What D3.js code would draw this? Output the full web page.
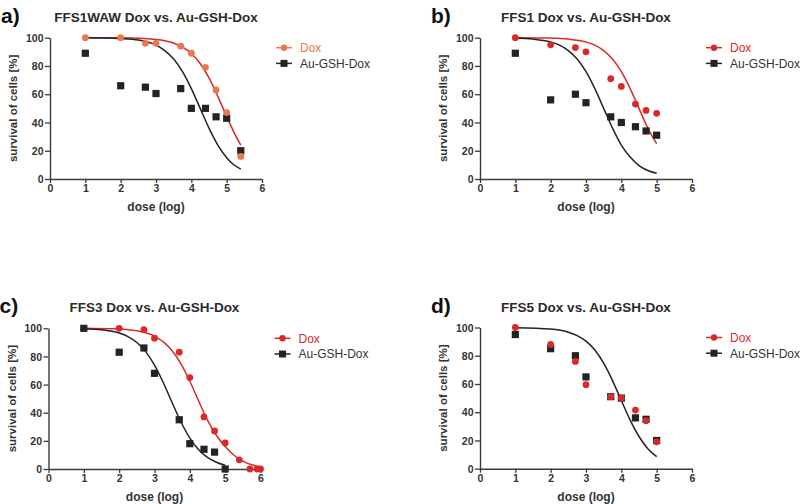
<!DOCTYPE html>
<html><head><meta charset="utf-8">
<script src="https://cdn.jsdelivr.net/npm/d3@7"></script>
<style>
html,body{margin:0;padding:0;background:#fff;}
svg{display:block;font-family:"Liberation Sans",Arial,sans-serif;}
</style></head>
<body>
<svg id="chart" width="800" height="504"></svg>
<script>
// ---------- data ----------
const panelLetters = ["a)", "b)", "c)", "d)"];
const panelTitles = ["FFS1WAW Dox vs. Au-GSH-Dox", "FFS1 Dox vs. Au-GSH-Dox", "FFS3 Dox vs. Au-GSH-Dox", "FFS5 Dox vs. Au-GSH-Dox"];
const seriesNames = ["Dox", "Au-GSH-Dox"];
const xTicks = [0, 1, 2, 3, 4, 5, 6];
const yTicks = [0, 20, 40, 60, 80, 100];

// measured points (dose log, survival %)
const doxA = [[1,100],[2,100],[2.7,96],[3,96],[3.7,94],[4,89],[4.4,79],[4.7,63],[5,47],[5.4,16]];
const auA  = [[1,89],[2,66],[2.7,65],[3,60.5],[3.7,64],[4,50],[4.4,50],[4.7,44],[5,43],[5.4,20]];
const doxB = [[1,100],[2,95],[2.7,93],[3,90],[3.7,71],[4,65.5],[4.4,53],[4.7,48.5],[5,46.5]];
const auB  = [[1,89],[2,56],[2.7,60],[3,54],[3.7,44],[4,40],[4.4,37],[4.7,34],[5,31]];
const doxC = [[1,100],[2,100],[2.7,99],[3,93],[3.7,83],[4,65],[4.4,37],[4.7,27],[5,18.5],[5.4,6.5],[5.7,0],[5.9,0],[6,0]];
const auC  = [[1,100],[2,83],[2.7,86],[3,68],[3.7,35],[4,18],[4.4,14],[4.7,12],[5,0]];
const doxD = [[1,100],[2,88],[2.7,76],[3,59.5],[3.7,51],[4,50],[4.4,41.5],[4.7,34],[5,19]];
const auD  = [[1,95],[2,85],[2.7,80],[3,65],[3.7,51],[4,50],[4.4,36],[4.7,35],[5,20]];

// fitted curves
const doxFitA = [[1,100],[2,99.9],[3,98.8],[3.5,96.2],[4,88.8],[4.25,81.7],[4.5,71.5],[4.75,58.5],[5,44.3],[5.2,33.4],[5.4,24]];
const auFitA  = [[1,99.9],[1.5,99.8],[2,99.4],[2.5,98.3],[3,94.7],[3.25,90.9],[3.5,84.9],[3.75,76],[4,64],[4.25,50],[4.5,36],[4.75,24],[5,15.1],[5.2,10.1],[5.4,7]];
const doxFitB = [[1,100],[2,99.7],[2.5,99],[3,96.9],[3.25,94.7],[3.5,90.9],[3.75,84.9],[4,76],[4.25,64],[4.5,50],[4.75,36],[5,25]];
const auFitB  = [[1,99.7],[1.5,99],[2,96.9],[2.25,94.7],[2.5,90.9],[2.75,84.9],[3,76],[3.25,64],[3.5,50],[3.75,36],[4,24],[4.25,15.5],[4.5,9.5],[4.75,6],[5,4]];
const doxFitC = [[1,100],[2,99.5],[2.5,98.2],[3,94.5],[3.25,90.3],[3.5,84],[3.75,74.7],[4,62.4],[4.25,48.3],[4.5,34.8],[4.75,24],[5,16],[5.25,9.8],[5.5,5.6],[5.75,3],[6,1.6]];
const auFitC  = [[1,99.6],[1.5,98.9],[2,96.6],[2.25,94.1],[2.5,89.9],[2.75,83.4],[3,73.8],[3.25,61.3],[3.5,47.1],[3.75,33.4],[4,22],[4.25,13.7],[4.5,8.2],[4.75,4.8],[5,2.7]];
const auFitD  = [[1,99.9],[2,98.9],[2.5,96.7],[2.75,94.3],[3,90.3],[3.25,84],[3.5,74.7],[3.75,62.4],[4,48.3],[4.25,34.4],[4.5,22.8],[4.75,14.2],[5,8.5]];

// ---------- layout / style ----------
const panels = [
  {x0:50,  y0:37.7, w:212, h:141.3, dox:doxA, au:auA, doxFit:doxFitA, auFit:auFitA, doxCol:"#E9784F", fitCol:"#D7282B"},
  {x0:480, y0:37.7, w:212, h:141.3, dox:doxB, au:auB, doxFit:doxFitB, auFit:auFitB, doxCol:"#D92A2A", fitCol:"#D92A2A"},
  {x0:48.5,y0:328.3,w:212, h:140.7, dox:doxC, au:auC, doxFit:doxFitC, auFit:auFitC, doxCol:"#D92A2A", fitCol:"#D92A2A"},
  {x0:480, y0:327.5,w:212, h:141.2, dox:doxD, au:auD, doxFit:null,    auFit:auFitD, doxCol:"#D92A2A", fitCol:"#D92A2A"}
];
const dark = "#232323";
const axisCol = "#3a3a3a";

const svg = d3.select("#chart");

panels.forEach((p, i) => {
  const x = d3.scaleLinear().domain([0, 6]).range([p.x0, p.x0 + p.w]);
  const y = d3.scaleLinear().domain([0, 100]).range([p.y0 + p.h, p.y0]);
  const g = svg.append("g");

  // panel letter
  g.append("text").attr("x", p.x0 - 49).attr("y", p.y0 - 15)
    .attr("font-size", 21).attr("font-weight", "bold").attr("fill", "#111")
    .text(panelLetters[i]);
  // title
  g.append("text").attr("x", p.x0 + p.w / 2).attr("y", p.y0 - 16)
    .attr("text-anchor", "middle").attr("font-size", 13.5).attr("font-weight", "bold").attr("fill", "#2a2a2a")
    .text(panelTitles[i]);

  // axes
  const xa = g.append("g").attr("transform", `translate(0,${p.y0 + p.h})`)
    .call(d3.axisBottom(x).tickValues(xTicks).tickFormat(d3.format("d")).tickSize(4).tickSizeOuter(0).tickPadding(2));
  const ya = g.append("g").attr("transform", `translate(${p.x0},0)`)
    .call(d3.axisLeft(y).tickValues(yTicks).tickFormat(d3.format("d")).tickSize(5).tickSizeOuter(0).tickPadding(1.5));
  [xa, ya].forEach(a => {
    a.select(".domain").attr("stroke", axisCol).attr("stroke-width", 1.4);
    a.selectAll(".tick line").attr("stroke", axisCol).attr("stroke-width", 1.3);
    a.selectAll(".tick text").attr("font-size", 10.5).attr("font-weight", "bold").attr("fill", "#333")
      .attr("font-family", "'Liberation Sans',Arial,sans-serif");
  });
  ya.selectAll(".tick text").attr("dy", "0.35em");

  // axis labels
  g.append("text").attr("x", p.x0 + p.w / 2).attr("y", p.y0 + p.h + 32)
    .attr("text-anchor", "middle").attr("font-size", 12).attr("font-weight", "bold").attr("fill", "#333")
    .text("dose (log)");
  g.append("text")
    .attr("transform", `translate(${p.x0 - 33},${p.y0 + p.h / 2}) rotate(-90)`)
    .attr("text-anchor", "middle").attr("font-size", 11.5).attr("font-weight", "bold").attr("fill", "#333")
    .text("survival of cells [%]");

  // curves
  const line = d3.line().x(d => x(d[0])).y(d => y(d[1])).curve(d3.curveMonotoneX);
  if (p.doxFit) g.append("path").datum(p.doxFit).attr("d", line)
    .attr("fill", "none").attr("stroke", p.fitCol).attr("stroke-width", 1.5);
  g.append("path").datum(p.auFit).attr("d", line)
    .attr("fill", "none").attr("stroke", dark).attr("stroke-width", 1.5);

  // points
  const drawSquares = () => g.append("g").selectAll("rect").data(p.au).join("rect")
    .attr("x", d => x(d[0]) - 3.6).attr("y", d => y(d[1]) - 3.6)
    .attr("width", 7.2).attr("height", 7.2).attr("fill", dark);
  const drawCircles = () => g.append("g").selectAll("circle").data(p.dox).join("circle")
    .attr("cx", d => x(d[0])).attr("cy", d => y(d[1])).attr("r", 3.4).attr("fill", p.doxCol);
  if (i === 2) { drawCircles(); drawSquares(); }
  else { drawSquares(); drawCircles(); }

  // legend
  const lx = p.x0 + p.w + 14;
  const ly = p.y0 + 10;
  const leg = [
    {name: seriesNames[0], col: p.doxCol, txt: p.doxCol, shape: "c"},
    {name: seriesNames[1], col: dark, txt: "#333", shape: "s"}
  ];
  leg.forEach((L, k) => {
    const yy = ly + k * 15.7;
    g.append("line").attr("x1", lx).attr("x2", lx + 16).attr("y1", yy).attr("y2", yy)
      .attr("stroke", L.col).attr("stroke-width", 1.5);
    if (L.shape === "c") g.append("circle").attr("cx", lx + 8).attr("cy", yy).attr("r", 3.2).attr("fill", L.col);
    else g.append("rect").attr("x", lx + 4.5).attr("y", yy - 3.5).attr("width", 7).attr("height", 7).attr("fill", L.col);
    g.append("text").attr("x", lx + 24).attr("y", yy).attr("dy", "0.36em")
      .attr("font-size", 12).attr("fill", L.txt).text(L.name);
  });
});
</script>
</body></html>
